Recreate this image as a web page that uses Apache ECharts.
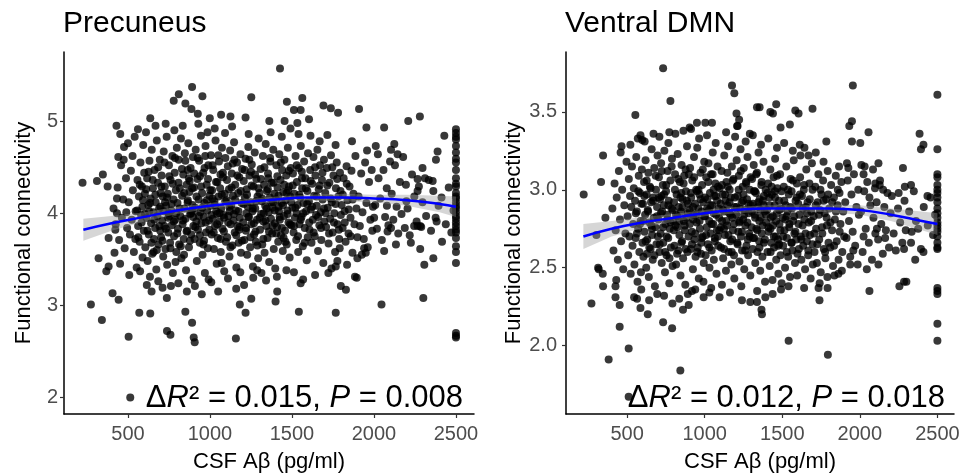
<!DOCTYPE html>
<html><head><meta charset="utf-8">
<script src="https://cdn.jsdelivr.net/npm/echarts@6/dist/echarts.min.js"></script>
<style>html,body{margin:0;padding:0;background:#fff}#c{width:963px;height:473px}</style>
</head><body><div id="c"></div>
<script>
// ---------- DATA ----------
const panelTitles = ["Precuneus", "Ventral DMN"];
const xAxisTitle = "CSF A\u03b2 (pg/ml)";
const yAxisTitle = "Functional connectivity";
const xTicks = [500, 1000, 1500, 2000, 2500];
const precYTicks = [2, 3, 4, 5];
const dmnYTicks = [2.0, 2.5, 3.0, 3.5];
const precStats = { dR2: "0.015", p: "0.008" };
const dmnStats = { dR2: "0.012", p: "0.018" };

// Precuneus: scattered / outlying points
const precOutliers = [[1427,5.57],[891,5.37],[810,5.29],[779,5.22],[850,5.19],[954,5.27],[1252,5.26],[1469,5.21],[1563,5.25],[1553,5.12],[1692,5.17],[1737,5.14],[1781,5.09],[1909,5.13],[2280,5.05],[2209,5.0],[1512,5.12],[887,5.13],[999,5.03],[1068,5.07],[1125,5.05],[636,5.03],[926,5.08],[730,4.97],[1362,5.0],[1455,5.0],[1604,5.02],[1533,4.98],[1217,5.04],[2062,4.93],[1954,4.93],
[223,4.33],[311,4.35],[347,4.42],[376,4.29],[321,3.51],[274,3.01],[341,2.84],[368,3.37],[382,3.73],[382,3.42],[406,3.13],[443,3.06],[423,3.82],[433,4.0],[433,4.16],[430,4.95],[453,4.86],[504,2.66],[514,2.0],[474,4.58],[500,4.76],
[569,2.92],[636,2.91],[738,2.72],[759,2.68],[850,2.93],[891,2.81],[901,2.65],[907,2.6],[1158,2.64],[1182,3.01],[1217,2.92],[1252,3.07],[1400,3.04],[1410,3.15],[1542,2.93],[1553,3.24],[1767,2.92],[1798,3.21],[1829,3.17],[1895,3.3],[2046,3.01],[2301,3.08],[2307,3.44],[2362,3.51],[2415,3.69],[2382,3.91],[2282,3.61],[2225,3.68],[2245,3.86],[2266,3.86],[2282,3.86],[2358,4.35],[2378,4.58],[2388,4.67],[2429,4.84],[2311,4.38],[2266,4.37],[2296,4.49],[2266,4.24],[2195,4.31],[2124,4.75],[2104,4.69],[2144,4.64],[2011,4.73],[2079,4.08],[2083,3.8],[2104,3.84],[2134,3.66],[2001,3.95],[1940,3.62],[1950,3.57],[1899,3.51],[1722,3.35],[1767,3.42],[1777,3.48]];
// Precuneus: values stacked at the 2500 ceiling
const precCeilingY = [4.91,4.87,4.83,4.8,4.73,4.66,4.59,4.55,4.47,4.38,4.32,4.29,4.22,4.18,4.16,4.12,4.08,4.05,4.01,3.97,3.94,3.9,3.86,3.82,3.79,3.73,3.64,3.58,3.46,2.7,2.67,2.65];
// Precuneus: main cloud
const precCloud = [
[412,4.05],[425,3.88],[437,4.28],[446,3.71],[458,4.52],[463,3.95],[471,4.15],[480,3.62],[488,4.38],[495,3.84],[452,3.45],[476,4.72],[490,4.01],[418,3.57],[441,4.61],
[505,4.12],[512,3.77],[518,4.46],[523,3.93],[530,4.25],[536,3.58],[541,4.83],[547,4.02],[553,3.41],[558,4.36],[562,3.86],[567,4.18],[571,3.69],[576,4.55],[580,3.98],[585,4.29],[589,3.52],[593,4.74],[597,3.81],[508,3.33],[528,4.62],[545,3.72],[561,4.91],[574,3.37],[588,4.07],[599,4.44],
[603,4.21],[606,3.63],[610,4.88],[613,3.95],[617,4.38],[620,3.48],[624,4.09],[627,3.77],[631,4.57],[634,3.31],[638,4.16],[641,3.89],[645,4.69],[648,3.56],[652,4.27],[655,4.01],[659,3.72],[662,4.47],[666,3.84],[669,4.12],[673,3.39],[676,4.79],[680,3.97],[683,4.33],[687,3.66],[690,4.05],[694,4.58],[697,3.81],[615,3.22],[644,3.15],[668,4.95],[685,3.26],[699,4.22],[629,4.02],[657,3.58],
[702,3.74],[705,4.41],[708,3.92],[712,4.18],[715,3.53],[718,4.67],[722,3.86],[725,4.29],[729,3.61],[732,4.08],[736,4.83],[739,3.44],[743,4.21],[746,3.79],[750,4.52],[753,3.97],[757,3.68],[760,4.36],[764,4.03],[767,3.87],[771,4.62],[774,3.35],[778,4.15],[781,3.75],[785,4.44],[788,3.93],[792,4.25],[795,3.58],[798,4.71],[711,3.19],[737,3.08],[762,3.21],[783,4.9],[748,4.0],[726,4.12],[790,3.47],
[802,4.11],[805,3.83],[809,4.58],[812,3.66],[816,4.27],[819,3.97],[823,4.81],[826,3.51],[830,4.19],[833,3.88],[837,4.42],[840,3.72],[844,4.05],[847,4.65],[851,3.94],[854,3.38],[858,4.31],[861,3.81],[865,4.14],[868,4.76],[872,3.63],[875,4.23],[879,3.99],[882,4.49],[886,3.77],[889,3.28],[893,4.09],[896,4.61],[899,3.86],[807,3.24],[834,4.95],[859,3.15],[876,4.35],[842,3.55],[891,4.02],[864,4.47],
[903,4.28],[906,3.72],[910,4.06],[913,4.69],[917,3.91],[920,3.48],[924,4.37],[927,3.82],[931,4.15],[934,4.57],[938,3.68],[941,4.01],[945,4.84],[948,3.89],[952,4.22],[955,3.55],[959,4.44],[962,3.96],[966,4.11],[969,3.35],[973,4.73],[976,3.79],[980,4.31],[983,4.03],[987,3.62],[990,4.52],[994,3.92],[997,4.19],[908,3.21],[929,4.97],[950,3.12],[971,4.62],[992,3.28],[939,4.4],[964,3.7],[985,4.88],
[1003,4.08],[1006,4.63],[1010,3.77],[1013,4.25],[1017,3.94],[1020,4.47],[1024,3.61],[1027,4.13],[1031,3.86],[1034,4.79],[1038,4.02],[1041,3.45],[1045,4.34],[1048,3.73],[1052,4.18],[1055,4.56],[1059,3.91],[1062,4.27],[1066,3.58],[1069,4.05],[1073,4.71],[1076,3.83],[1080,4.39],[1083,3.98],[1087,3.37],[1090,4.21],[1094,4.6],[1097,3.69],[1008,3.25],[1029,4.92],[1050,3.15],[1071,3.46],[1092,4.87],[1015,4.16],[1043,3.99],[1064,4.42],[1085,3.8],
[1102,4.14],[1105,3.74],[1109,4.51],[1112,3.97],[1116,4.26],[1119,3.53],[1123,4.68],[1126,3.88],[1130,4.09],[1133,4.43],[1137,3.65],[1140,4.19],[1144,3.92],[1147,4.77],[1151,3.79],[1154,4.31],[1158,4.03],[1161,3.41],[1165,4.55],[1168,3.86],[1172,4.22],[1175,3.68],[1179,4.39],[1182,3.95],[1186,4.64],[1189,3.57],[1193,4.11],[1196,4.48],[1110,3.29],[1135,4.94],[1160,3.18],[1185,3.36],[1121,4.02],[1149,4.58],[1177,3.82],
[1203,3.9],[1206,4.35],[1210,3.71],[1213,4.17],[1217,4.59],[1220,3.84],[1224,4.26],[1227,3.55],[1231,4.07],[1234,4.72],[1238,3.96],[1241,4.41],[1245,3.63],[1248,4.12],[1252,3.88],[1255,4.53],[1259,4.02],[1262,3.42],[1266,4.29],[1269,3.77],[1273,4.66],[1276,4.05],[1280,3.69],[1283,4.37],[1287,3.93],[1290,4.18],[1294,3.51],[1297,4.81],[1208,3.22],[1236,4.86],[1264,3.3],[1288,3.38],[1222,4.0],[1250,4.45],[1278,3.8],
[1302,4.22],[1305,3.82],[1309,4.48],[1312,3.99],[1316,4.13],[1319,3.66],[1323,4.62],[1326,3.91],[1330,4.31],[1333,3.57],[1337,4.08],[1340,4.75],[1344,3.86],[1347,4.24],[1351,3.73],[1354,4.43],[1358,4.01],[1361,3.47],[1365,4.17],[1368,4.56],[1372,3.94],[1375,4.33],[1379,3.78],[1382,4.06],[1386,4.69],[1389,3.61],[1393,4.21],[1396,3.89],[1314,3.35],[1342,3.27],[1370,4.88],[1398,3.4],[1328,4.0],[1356,4.38],[1384,4.12],
[1402,4.15],[1405,4.52],[1409,3.85],[1412,4.28],[1416,3.69],[1419,4.07],[1423,4.64],[1426,3.93],[1430,4.36],[1433,3.76],[1437,4.11],[1440,4.47],[1444,3.59],[1447,4.23],[1451,3.97],[1454,4.58],[1458,3.81],[1461,4.14],[1465,4.41],[1468,3.66],[1472,4.03],[1475,4.71],[1479,3.9],[1482,4.29],[1486,3.52],[1489,4.18],[1493,4.49],[1496,3.87],[1408,3.31],[1438,4.83],[1466,3.38],[1491,4.92],[1421,4.02],[1449,3.73],[1477,4.25],
[1503,4.06],[1506,4.43],[1510,3.79],[1514,4.21],[1518,3.95],[1522,4.62],[1526,3.71],[1530,4.34],[1534,4.09],[1538,3.58],[1542,4.49],[1546,3.88],[1550,4.17],[1554,4.73],[1558,3.96],[1562,4.27],[1566,3.64],[1570,4.11],[1574,4.56],[1578,3.84],[1582,4.38],[1586,4.02],[1590,3.49],[1594,4.24],[1598,4.65],[1512,3.36],[1540,4.86],[1568,3.28],[1596,3.74],[1528,4.0],[1560,4.45],
[1603,4.13],[1607,3.82],[1611,4.47],[1615,4.04],[1619,3.68],[1623,4.32],[1627,3.93],[1631,4.61],[1635,4.19],[1639,3.75],[1643,4.41],[1647,3.98],[1651,4.08],[1655,4.69],[1659,3.59],[1663,4.26],[1667,3.87],[1671,4.52],[1675,4.01],[1679,3.71],[1683,4.36],[1687,4.15],[1691,3.46],[1695,4.58],[1613,4.84],[1641,3.33],[1669,4.78],[1697,3.91],
[1703,4.22],[1708,3.85],[1713,4.49],[1718,4.06],[1723,3.67],[1728,4.33],[1733,3.94],[1738,4.63],[1743,4.12],[1748,3.79],[1753,4.41],[1758,4.0],[1763,3.58],[1768,4.27],[1773,4.55],[1778,3.88],[1783,4.18],[1788,3.72],[1793,4.44],[1798,3.98],[1716,4.85],[1741,3.4],[1766,4.74],[1791,3.62],
[1803,4.09],[1809,3.84],[1815,4.38],[1821,4.02],[1827,3.69],[1833,4.51],[1839,4.14],[1845,3.78],[1851,4.29],[1857,3.95],[1863,4.46],[1869,3.57],[1875,4.21],[1881,3.88],[1887,4.62],[1893,4.05],[1899,3.74],[1836,3.44],[1866,4.78],[1884,3.31],
[1906,4.18],[1914,3.86],[1922,4.43],[1930,4.01],[1938,3.72],[1946,4.55],[1954,4.11],[1962,3.63],[1970,4.34],[1978,3.93],[1986,4.47],[1994,4.07],[1926,3.55],[1958,4.68],[1990,3.81],
[2008,4.09],[2018,3.83],[2028,4.38],[2038,4.16],[2048,3.71],[2058,4.47],[2068,3.96],[2078,4.27],[2088,3.87],[2098,4.56],[2024,4.64],[2062,3.59],
[2108,4.21],[2118,3.93],[2128,4.52],[2138,4.07],[2148,3.78],[2158,4.34],[2168,3.99],[2178,4.61],[2188,3.84],[2198,4.13],
[2205,4.05],[2218,3.76],[2232,4.42],[2246,4.18],[2260,3.91],[2274,4.29],[2288,3.85],[2296,4.12],
[2318,3.97],[2334,4.36],[2348,3.81],[2362,4.24],[2376,3.95],[2394,4.08],
[2412,4.17],[2438,3.88],[2456,4.28],[2472,3.79],[2485,4.03]];
// Precuneus: extra points in the dense core
const precCore = [
[556,4.03],[563,3.74],[572,4.31],[583,3.9],[592,4.14],
[604,3.99],[611,4.26],[619,3.81],[626,4.45],[635,4.11],[643,3.68],[651,4.36],[660,3.93],[667,4.2],[676,3.6],[684,4.5],[692,3.86],[698,4.07],
[704,4.29],[710,3.7],[717,4.02],[723,4.55],[731,3.83],[738,4.17],[745,3.95],[752,4.4],[759,3.62],[766,4.1],[773,4.32],[780,3.91],[787,4.6],[794,4.0],
[801,3.78],[808,4.33],[815,4.05],[822,3.64],[829,4.48],[836,3.92],[843,4.22],[850,4.57],[857,3.8],[864,4.12],[871,4.38],[878,3.7],[885,4.0],[892,4.27],[898,3.96],
[904,4.43],[911,3.85],[918,4.18],[925,4.6],[932,3.97],[939,3.76],[946,4.29],[953,4.06],[960,3.66],[967,4.49],[974,3.9],[981,4.14],[988,4.37],[996,3.82],
[1002,4.25],[1009,3.98],[1016,4.52],[1023,3.79],[1030,4.09],[1037,4.34],[1044,3.88],[1051,4.63],[1058,4.0],[1065,3.72],[1072,4.2],[1079,4.44],[1086,3.95],[1093,4.13],
[1104,4.36],[1111,3.9],[1118,4.07],[1125,3.63],[1132,4.28],[1139,4.54],[1146,3.99],[1153,4.15],[1160,3.76],[1167,4.41],[1174,4.02],[1181,3.85],[1188,4.24],[1195,3.7],
[1205,4.1],[1212,4.47],[1219,3.81],[1226,4.2],[1233,3.96],[1240,4.58],[1247,3.74],[1254,4.3],[1261,4.05],[1268,3.89],[1275,4.42],[1282,4.13],[1289,3.65],[1296,4.27],
[1304,3.95],[1311,4.37],[1318,4.16],[1325,3.72],[1332,4.5],[1339,3.92],[1346,4.05],[1353,4.26],[1360,3.8],[1367,4.6],[1374,4.12],[1381,3.86],[1388,4.33],[1395,4.03],
[1404,3.78],[1411,4.4],[1418,4.19],[1425,3.96],[1432,4.55],[1439,3.84],[1446,4.09],[1453,4.31],[1460,3.69],[1467,4.22],[1474,3.99],[1481,4.46],[1488,3.88],[1495,4.12],
[1505,4.3],[1513,3.86],[1521,4.06],[1529,4.52],[1537,3.75],[1545,4.2],[1553,3.93],[1561,4.38],[1569,4.0],[1577,3.68],[1585,4.27],[1593,4.1],
[1605,3.9],[1614,4.35],[1623,4.07],[1632,3.79],[1641,4.5],[1650,4.18],[1659,3.96],[1668,4.3],[1677,3.84],[1686,4.44],[1695,4.05],
[1706,4.0],[1716,4.3],[1726,3.78],[1736,4.16],[1746,4.5],[1756,3.9],[1766,4.1],[1776,4.37],[1786,3.82],[1796,4.24],
[1810,4.2],[1822,3.9],[1834,4.32],[1846,4.04],[1858,3.75],[1870,4.15]];

// Ventral DMN: scattered / outlying points
const dmnOutliers = [[220,2.97],[270,2.27],[302,2.71],[313,2.5],[343,2.46],[345,2.38],[345,3.22],[332,3.05],[381,1.91],[360,2.82],[510,1.98],[452,2.12],[843,1.84],[510,1.67],[732,2.15],[790,2.11],[633,2.2],[586,2.24],[860,2.23],[897,2.26],[317,2.49],[425,2.38],[425,2.31],[452,2.26],[564,2.3],[993,2.31],[918,2.35],[1030,2.34],[1240,2.29],[1294,2.28],
[1541,2.03],[1794,1.94],[1369,2.2],[1366,2.23],[1337,2.28],[1740,2.29],[1734,2.37],[1792,2.37],[2062,2.35],[2255,2.38],[2285,2.41],[2300,2.41],[2045,2.49],[2120,2.52],[1938,2.52],[1862,2.46],[2357,2.55],[2410,2.6],[2285,2.62],[2330,2.66],[2163,2.69],[2100,2.72],[2110,2.75],
[732,3.78],[779,3.57],[553,3.48],[1176,3.67],[1191,3.62],[1205,3.49],[1222,3.45],[1212,3.41],[1337,3.53],[950,3.43],[1004,3.43],[1047,3.43],[903,3.4],[586,3.35],[597,3.32],[772,3.37],[464,3.28],
[1955,3.67],[1354,3.53],[1423,3.5],[1440,3.49],[1461,3.55],[1584,3.51],[1605,3.49],[1695,3.52],[1489,3.4],[1549,3.42],[1784,3.31],[1949,3.44],[1932,3.41],[2056,3.37],[1949,3.31],[2003,3.3],[2385,3.36],[2410,3.29],[2394,3.26],[2278,3.14],[2250,2.98],[2290,3.02],[2330,3.03],[2024,3.1],[2031,3.15],[2010,3.16],[2120,3.17],[2085,3.13],[1917,3.17],[1643,3.27],[1617,3.22],[2100,3.04],[2150,3.0],[2130,3.06],[2436,2.96]];
// Ventral DMN: values stacked at the 2500 ceiling
const dmnCeilingY = [3.61,3.26,3.1,3.08,3.03,3.0,2.98,2.95,2.92,2.88,2.85,2.82,2.79,2.77,2.75,2.73,2.7,2.66,2.63,2.62,2.37,2.35,2.33,2.14,2.03];
// Ventral DMN: main cloud
const dmnCloud = [
[405,2.88],[412,2.61],[419,3.04],[426,2.74],[433,2.95],[440,2.55],[447,3.12],[454,2.81],[461,2.67],[468,3.0],[475,2.49],[482,2.9],[489,2.72],[496,3.18],[430,2.42],[458,3.24],
[503,2.83],[507,2.58],[511,3.07],[515,2.7],[519,2.96],[523,2.46],[527,2.89],[531,3.15],[535,2.64],[539,2.78],[543,3.01],[547,2.52],[551,2.93],[555,2.69],[559,3.21],[563,2.86],[567,2.41],[571,2.75],[575,3.09],[579,2.6],[583,2.98],[587,2.8],[591,2.36],[595,3.13],[599,2.66],[521,3.29],[545,2.31],[569,3.33],[589,2.47],
[602,2.91],[605,2.57],[609,3.05],[612,2.73],[616,2.84],[619,3.19],[623,2.5],[626,2.97],[630,2.68],[633,2.87],[637,3.11],[640,2.44],[644,2.79],[647,3.02],[651,2.62],[654,2.92],[658,3.26],[661,2.71],[665,2.55],[668,2.95],[672,2.82],[675,3.14],[679,2.38],[682,2.76],[686,3.0],[689,2.65],[693,2.89],[696,3.22],[613,3.31],[642,2.29],[670,3.36],[694,2.33],[628,2.59],[656,2.77],
[702,2.81],[705,3.08],[709,2.6],[712,2.94],[716,2.72],[719,3.17],[723,2.53],[726,2.86],[730,3.03],[733,2.66],[737,2.9],[740,3.25],[744,2.47],[747,2.78],[751,2.99],[754,2.58],[758,2.84],[761,3.12],[765,2.69],[768,2.93],[772,2.4],[775,2.75],[779,3.06],[782,2.63],[786,2.88],[789,3.2],[793,2.51],[796,2.8],[708,3.34],[738,2.32],[766,3.3],[792,2.27],[721,2.96],[755,2.7],
[802,2.92],[805,2.64],[809,3.1],[812,2.77],[816,2.52],[819,2.97],[823,2.83],[826,3.23],[830,2.61],[833,2.89],[837,2.71],[840,3.05],[844,2.45],[847,2.86],[851,3.16],[854,2.67],[858,2.94],[861,2.56],[865,2.8],[868,3.09],[872,2.74],[875,2.39],[879,2.99],[882,2.82],[886,3.28],[889,2.6],[893,2.91],[896,2.7],[811,3.36],[836,2.3],[863,3.38],[891,2.33],[824,2.76],[849,2.98],[877,3.13],
[903,2.87],[906,3.14],[910,2.62],[913,2.95],[917,2.73],[920,3.06],[924,2.49],[927,2.84],[931,3.21],[934,2.68],[938,2.91],[941,2.57],[945,3.0],[948,2.79],[952,3.27],[955,2.63],[959,2.88],[962,2.43],[966,2.97],[969,2.75],[973,3.11],[976,2.59],[980,2.86],[983,3.03],[987,2.7],[990,2.92],[994,2.53],[997,3.18],[912,3.39],[939,2.36],[964,3.33],[992,2.41],[926,2.81],[950,2.99],[978,2.66],
[1003,2.83],[1006,2.58],[1010,3.08],[1013,2.76],[1017,2.94],[1020,2.65],[1024,3.17],[1027,2.87],[1031,2.5],[1034,2.98],[1038,2.72],[1041,3.1],[1045,2.61],[1048,2.9],[1052,3.24],[1055,2.78],[1059,2.55],[1062,2.96],[1066,2.69],[1069,3.04],[1073,2.84],[1076,2.46],[1080,2.93],[1083,3.15],[1087,2.64],[1090,2.88],[1094,2.74],[1097,3.01],[1015,3.35],[1042,2.37],[1071,3.3],[1096,2.31],[1029,2.8],[1057,3.0],[1085,2.7],
[1102,2.91],[1105,2.63],[1109,3.12],[1112,2.8],[1116,2.97],[1119,2.56],[1123,2.86],[1126,3.22],[1130,2.71],[1133,2.93],[1137,2.48],[1140,3.05],[1144,2.77],[1147,2.9],[1151,3.28],[1154,2.6],[1158,2.85],[1161,3.0],[1165,2.67],[1168,2.95],[1172,2.52],[1175,3.15],[1179,2.82],[1182,2.74],[1186,3.07],[1189,2.58],[1193,2.89],[1196,3.34],[1111,2.39],[1138,3.37],[1163,2.34],[1191,2.43],[1124,2.75],[1149,3.02],[1177,2.68],
[1203,2.84],[1206,3.19],[1210,2.66],[1213,2.96],[1217,2.73],[1220,3.09],[1224,2.54],[1227,2.88],[1231,3.26],[1234,2.7],[1238,2.92],[1241,2.61],[1245,3.02],[1248,2.81],[1252,3.14],[1255,2.49],[1259,2.87],[1262,2.77],[1266,3.05],[1269,2.64],[1273,2.94],[1276,3.21],[1280,2.58],[1283,2.85],[1287,2.72],[1290,3.0],[1294,2.45],[1297,2.9],[1209,3.41],[1236,2.38],[1264,3.31],[1291,3.36],[1222,2.79],[1250,2.97],[1278,2.68],
[1302,2.76],[1305,3.07],[1309,2.62],[1312,2.91],[1316,3.16],[1319,2.69],[1323,2.84],[1326,2.53],[1330,2.98],[1333,2.75],[1337,3.11],[1340,2.6],[1344,2.89],[1347,3.24],[1351,2.67],[1354,2.94],[1358,2.48],[1361,2.82],[1365,3.03],[1368,2.72],[1372,2.57],[1375,2.93],[1379,3.18],[1382,2.66],[1386,2.86],[1389,2.41],[1393,3.0],[1396,2.79],[1310,3.35],[1338,2.35],[1363,3.29],[1391,2.31],[1324,2.99],[1352,2.8],[1380,2.9],
[1402,2.87],[1405,2.6],[1409,3.04],[1412,2.73],[1416,2.95],[1419,2.51],[1423,3.13],[1426,2.82],[1430,2.66],[1433,2.97],[1437,2.42],[1440,2.77],[1444,3.08],[1447,2.63],[1451,2.9],[1454,3.2],[1458,2.7],[1461,2.55],[1465,2.85],[1468,3.01],[1472,2.68],[1475,2.46],[1479,2.93],[1482,2.78],[1486,3.1],[1489,2.58],[1493,2.88],[1496,2.4],[1410,3.33],[1438,2.33],[1466,3.27],[1492,2.36],[1424,2.75],[1452,2.99],[1480,2.65],
[1503,2.82],[1506,2.64],[1510,3.02],[1514,2.74],[1518,2.5],[1522,2.9],[1526,3.15],[1530,2.69],[1534,2.86],[1538,2.57],[1542,2.97],[1546,2.78],[1550,2.44],[1554,3.07],[1558,2.66],[1562,2.88],[1566,2.61],[1570,2.8],[1574,3.19],[1578,2.72],[1582,2.53],[1586,2.93],[1590,2.68],[1594,3.04],[1598,2.59],[1512,3.3],[1540,2.38],[1568,3.25],[1596,2.45],[1528,2.83],[1560,2.99],
[1603,2.91],[1607,2.62],[1611,2.84],[1615,3.08],[1619,2.7],[1623,2.55],[1627,2.96],[1631,2.77],[1635,2.64],[1639,3.0],[1643,2.81],[1647,2.49],[1651,2.89],[1655,3.13],[1659,2.67],[1663,2.92],[1667,2.58],[1671,2.79],[1675,3.04],[1679,2.71],[1683,2.43],[1687,2.86],[1691,3.17],[1695,2.65],[1613,3.29],[1641,2.37],[1669,3.22],[1697,2.52],
[1703,2.83],[1708,2.6],[1713,3.02],[1718,2.75],[1723,2.53],[1728,2.92],[1733,3.1],[1738,2.68],[1743,2.87],[1748,2.47],[1753,2.97],[1758,2.72],[1763,3.06],[1768,2.62],[1773,2.85],[1778,2.56],[1783,2.94],[1788,2.77],[1793,3.12],[1798,2.66],[1716,3.24],[1741,2.4],[1766,3.18],[1791,2.44],
[1803,2.88],[1809,2.63],[1815,3.03],[1821,2.74],[1827,2.51],[1833,2.95],[1839,2.81],[1845,3.09],[1851,2.67],[1857,2.9],[1863,2.55],[1869,2.98],[1875,2.78],[1881,3.05],[1887,2.6],[1893,2.86],[1899,2.7],[1836,2.45],[1866,3.15],[1884,2.48],
[1906,2.92],[1914,2.69],[1922,3.06],[1930,2.8],[1938,2.57],[1946,2.97],[1954,2.73],[1962,3.1],[1970,2.64],[1978,2.89],[1986,2.52],[1994,2.84],[1926,3.14],[1958,2.61],[1990,3.0],
[2008,2.86],[2018,2.6],[2028,2.99],[2038,2.75],[2048,3.05],[2058,2.66],[2068,2.9],[2078,2.55],[2088,2.82],[2098,3.01],[2024,2.7],[2062,2.95],
[2108,2.92],[2118,2.68],[2128,3.03],[2138,2.78],[2148,2.59],[2158,2.89],[2168,2.74],[2178,2.98],[2188,2.63],[2198,2.85],
[2206,2.96],[2218,2.72],[2232,2.61],[2246,2.88],[2260,2.79],[2274,2.66],[2288,2.93],[2296,2.74],
[2318,2.86],[2334,2.73],[2348,2.99],[2362,2.8],[2376,2.75],[2394,2.62],
[2412,2.89],[2438,2.77],[2456,2.95],[2472,2.71],[2485,2.84]];
// Ventral DMN: extra points in the dense core
const dmnCore = [
[556,2.85],[563,2.72],[572,2.99],[583,2.78],[592,2.91],
[604,2.8],[611,2.96],[619,2.67],[626,3.06],[635,2.86],[643,2.63],[651,3.01],[660,2.75],[667,2.93],[676,2.58],[684,3.09],[692,2.83],[698,2.7],
[704,2.95],[710,2.65],[717,2.85],[723,3.12],[731,2.76],[738,2.97],[745,2.6],[752,3.03],[759,2.81],[766,2.9],[773,2.56],[780,2.79],[787,3.15],[794,2.87],
[801,2.74],[808,3.0],[815,2.84],[822,2.59],[829,3.07],[836,2.8],[843,2.95],[850,2.66],[857,2.89],[864,3.04],[871,2.77],[878,2.62],[885,2.93],[892,2.85],[898,3.1],
[904,2.78],[911,2.98],[918,2.65],[925,2.89],[932,3.08],[939,2.72],[946,2.84],[953,2.6],[960,3.0],[967,2.8],[974,2.94],[981,2.69],[988,3.13],[996,2.83],
[1002,2.95],[1009,2.71],[1016,2.88],[1023,3.05],[1030,2.63],[1037,2.9],[1044,2.78],[1051,3.1],[1058,2.85],[1065,2.67],[1072,2.96],[1079,2.74],[1086,3.02],[1093,2.82],
[1104,2.76],[1111,3.03],[1118,2.87],[1125,2.62],[1132,2.97],[1139,2.8],[1146,3.11],[1153,2.71],[1160,2.92],[1167,2.84],[1174,2.6],[1181,3.06],[1188,2.78],[1195,2.95],
[1205,2.89],[1212,2.65],[1219,3.0],[1226,2.8],[1233,3.12],[1240,2.73],[1247,2.93],[1254,2.84],[1261,2.61],[1268,3.04],[1275,2.79],[1282,2.91],[1289,2.7],[1296,3.08],
[1304,2.86],[1311,2.69],[1318,2.99],[1325,2.82],[1332,3.1],[1339,2.74],[1346,2.92],[1353,2.63],[1360,2.87],[1367,3.05],[1374,2.77],[1381,2.96],[1388,2.68],[1395,2.84],
[1404,2.98],[1411,2.76],[1418,2.9],[1425,2.6],[1432,3.02],[1439,2.83],[1446,2.7],[1453,2.95],[1460,2.8],[1467,3.09],[1474,2.64],[1481,2.87],[1488,2.74],[1495,2.99],
[1505,2.7],[1513,2.93],[1521,2.81],[1529,2.6],[1537,3.0],[1545,2.76],[1553,2.89],[1561,2.66],[1569,3.06],[1577,2.83],[1585,2.73],[1593,2.95],
[1605,2.78],[1614,2.97],[1623,2.68],[1632,2.88],[1641,3.03],[1650,2.72],[1659,2.85],[1668,2.61],[1677,2.94],[1686,2.8],[1695,3.0],
[1706,2.72],[1716,2.9],[1726,2.65],[1736,2.84],[1746,3.0],[1756,2.76],[1766,2.93],[1776,2.6],[1786,2.82],[1796,2.97],
[1810,2.79],[1822,2.92],[1834,2.64],[1846,2.86],[1858,3.0],[1870,2.73]];

// Quadratic fit curves and 95% bands
const precFitX  = [228, 400, 600, 800, 1000, 1200, 1400, 1600, 1800, 2000, 2200, 2400, 2500];
const precFitY  = [3.82, 3.89, 3.96, 4.03, 4.08, 4.12, 4.15, 4.17, 4.17, 4.16, 4.14, 4.10, 4.07];
const precBandLo = [3.70, 3.81, 3.91, 3.99, 4.05, 4.09, 4.12, 4.14, 4.13, 4.12, 4.08, 4.01, 3.96];
const precBandHi = [3.94, 3.97, 4.01, 4.07, 4.11, 4.15, 4.18, 4.20, 4.21, 4.20, 4.20, 4.19, 4.18];
const dmnFitX  = [218, 400, 600, 800, 1000, 1200, 1400, 1600, 1800, 2000, 2200, 2400, 2500];
const dmnFitY  = [2.70, 2.75, 2.79, 2.82, 2.85, 2.87, 2.88, 2.88, 2.88, 2.87, 2.84, 2.80, 2.78];
const dmnBandLo = [2.62, 2.70, 2.755, 2.795, 2.83, 2.85, 2.86, 2.86, 2.855, 2.84, 2.80, 2.74, 2.71];
const dmnBandHi = [2.78, 2.80, 2.825, 2.845, 2.87, 2.89, 2.90, 2.90, 2.905, 2.90, 2.88, 2.86, 2.85];

// ---------- CHART ----------
const FONT = '"Liberation Sans", Arial, Helvetica, sans-serif';
const ceilX = 2500;
const precPts = precOutliers.concat(precCloud, precCore, precCeilingY.map(y => [ceilX, y]));
const dmnPts = dmnOutliers.concat(dmnCloud, dmnCore, dmnCeilingY.map(y => [ceilX, y]));
const zip = (xs, ys) => xs.map((x, i) => [x, ys[i]]);

function axisX(gi, min, max) {
  return {
    type: 'value', gridIndex: gi, min: min, max: max,
    name: xAxisTitle, nameLocation: 'middle', nameGap: 37,
    nameTextStyle: { fontFamily: FONT, fontSize: 22, color: '#000' },
    splitLine: { show: false },
    axisLine: { lineStyle: { color: '#000', width: 1.5 } },
    axisTick: { customValues: xTicks, length: 4, lineStyle: { color: '#333', width: 1.2 } },
    axisLabel: { customValues: xTicks, fontFamily: FONT, fontSize: 20, color: '#4d4d4d', margin: 10,
      formatter: v => String(v) }
  };
}
function axisY(gi, min, max, ticks, dec) {
  return {
    type: 'value', gridIndex: gi, min: min, max: max,
    name: yAxisTitle, nameLocation: 'middle', nameGap: 29, nameRotate: 90,
    nameTextStyle: { fontFamily: FONT, fontSize: 22, color: '#000' },
    splitLine: { show: false },
    axisLine: { show: true, lineStyle: { color: '#000', width: 1.5 } },
    axisTick: { show: true, customValues: ticks, length: 4, lineStyle: { color: '#333', width: 1.2 } },
    axisLabel: { customValues: ticks, fontFamily: FONT, fontSize: 20, color: '#4d4d4d', margin: dec ? 9 : 6,
      formatter: v => v.toFixed(dec) }
  };
}
function bandSeries(i, fx, lo, hi) {
  return {
    type: 'custom', xAxisIndex: i, yAxisIndex: i, data: [[fx[0], lo[0]]], z: 3, silent: true,
    renderItem: (params, api) => {
      const pts = [];
      for (let k = 0; k < fx.length; k++) pts.push(api.coord([fx[k], hi[k]]));
      for (let k = fx.length - 1; k >= 0; k--) pts.push(api.coord([fx[k], lo[k]]));
      return { type: 'polygon', shape: { points: pts }, style: { fill: 'rgba(153,153,153,0.4)' } };
    }
  };
}
function panelSeries(i, pts, fx, fy, lo, hi) {
  return [
    { type: 'scatter', xAxisIndex: i, yAxisIndex: i, data: pts, symbolSize: 8,
      itemStyle: { color: '#000', opacity: 0.78 }, z: 2 },
    bandSeries(i, fx, lo, hi),
    { type: 'line', xAxisIndex: i, yAxisIndex: i, data: zip(fx, fy), smooth: true,
      symbol: 'none', lineStyle: { color: '#0000ff', width: 2.5 }, z: 4 }
  ];
}
function statText(s) {
  return '{n|\u0394}{i|R}{n|\u00b2 = ' + s.dR2 + ', }{i|P}{n| = ' + s.p + '}';
}
const richStat = {
  n: { fontFamily: FONT, fontSize: 31, color: '#000', fontWeight: 'normal', lineHeight: 34 },
  i: { fontFamily: FONT, fontSize: 31, color: '#000', fontWeight: 'normal', fontStyle: 'italic', lineHeight: 34 }
};

const chart = echarts.init(document.getElementById('c'), null, { renderer: 'canvas' });
chart.setOption({
  animation: false,
  backgroundColor: '#fff',
  title: [
    { text: panelTitles[0], left: 63, top: 9, padding: 0, textStyle: { fontFamily: FONT, fontSize: 30, fontWeight: 'normal', color: '#000' } },
    { text: panelTitles[1], left: 565, top: 9, padding: 0, textStyle: { fontFamily: FONT, fontSize: 30, fontWeight: 'normal', color: '#000' } },
    { text: statText(precStats), right: 500, top: 381, padding: 0, textStyle: { fontWeight: 'normal', rich: richStat } },
    { text: statText(dmnStats), right: 18, top: 381, padding: 0, textStyle: { fontWeight: 'normal', rich: richStat } }
  ],
  grid: [
    { left: 64, right: 489, top: 52, bottom: 59, outerBoundsMode: 'none' },
    { left: 566, right: 9, top: 52, bottom: 59, outerBoundsMode: 'none' }
  ],
  xAxis: [axisX(0, 110, 2610), axisX(1, 106, 2607)],
  yAxis: [axisY(0, 1.82, 5.75, precYTicks, 0), axisY(1, 1.56, 3.885, dmnYTicks, 1)],
  series: panelSeries(0, precPts, precFitX, precFitY, precBandLo, precBandHi)
    .concat(panelSeries(1, dmnPts, dmnFitX, dmnFitY, dmnBandLo, dmnBandHi))
});
</script></body></html>
